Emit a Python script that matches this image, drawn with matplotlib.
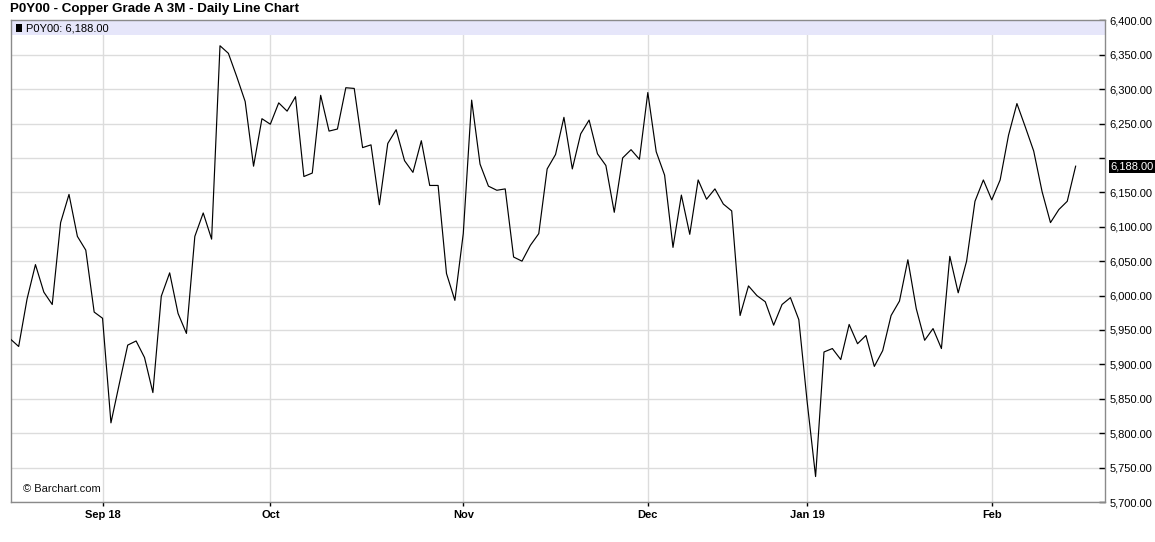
import numpy as np
import matplotlib
matplotlib.use("Agg")
import matplotlib.pyplot as plt
import matplotlib.transforms as mtransforms
from matplotlib.patches import Rectangle

plt.rcParams['font.family'] = ['Liberation Sans', 'DejaVu Sans']

# daily closes (trading-day index 0..127)
closes = [
    5937, 5926, 5995, 6045, 6005, 5987, 6106, 6147, 6086, 6066,
    5976, 5967, 5815, 5872, 5928, 5934, 5910, 5859, 5999, 6033,
    5974, 5945, 6086, 6120, 6082, 6363, 6352, 6318, 6282, 6188,
    6257, 6249, 6280, 6268, 6289, 6173, 6178, 6291, 6239, 6242,
    6302, 6301, 6215, 6219, 6132, 6221, 6241, 6196, 6179, 6225,
    6160, 6160, 6032, 5993, 6090, 6284, 6191, 6159, 6153, 6155,
    6056, 6050, 6073, 6090, 6184, 6205, 6259, 6184, 6235, 6255,
    6206, 6189, 6121, 6200, 6212, 6198, 6295, 6209, 6175, 6070,
    6146, 6089, 6168, 6140, 6155, 6133, 6123, 5971, 6014, 6000,
    5991, 5957, 5987, 5997, 5965, 5845, 5737, 5918, 5923, 5907,
    5958, 5930, 5942, 5897, 5920, 5971, 5992, 6052, 5981, 5935,
    5952, 5923, 6057, 6004, 6050, 6137, 6168, 6139, 6168, 6233,
    6279, 6245, 6210, 6151, 6106, 6125, 6137, 6188,
]
month_labels = ["Sep 18", "Oct", "Nov", "Dec", "Jan 19", "Feb"]
month_index = [11, 31, 54, 76, 95, 117]
symbol = "P0Y00"
title = "P0Y00 - Copper Grade A 3M - Daily Line Chart"

W, H = 1155, 542
fig = plt.figure(figsize=(W / 100, H / 100), dpi=100)
fig.patch.set_facecolor("white")

ax_l, ax_r, ax_t, ax_b = 10.7, 1105, 20.3, 502
ax = fig.add_axes([ax_l / W, 1 - ax_b / H, (ax_r - ax_l) / W, (ax_b - ax_t) / H])

x = np.arange(len(closes))
ax.plot(x, closes, color="black", lw=0.85, zorder=3)

ax.set_xlim(0.05, 130.5)
ax.set_ylim(5700, 6400)

# grid
yticks = np.arange(5700, 6401, 50)
ax.set_yticks(yticks)
last = closes[-1]
ax.set_yticklabels(["" if abs(v - last) < 25 else f"{v:,.2f}" for v in yticks])
ax.set_xticks(month_index)
ax.set_xticklabels(month_labels, fontweight="bold", fontsize=8)
ax.grid(True, color="#dcdcdc", lw=1.0, zorder=0)
ax.set_axisbelow(True)

ax.yaxis.tick_right()
ax.tick_params(axis="y", direction="in", length=4, width=1, color="black",
               labelsize=8, pad=3, right=True, left=False)
ax.tick_params(axis="x", direction="out", length=3, width=1, color="black",
               pad=3)
for s in ax.spines.values():
    s.set_color("#8a8a8a")
    s.set_linewidth(1.0)

# lavender legend band
band_h = 14.7 / (ax_b - ax_t)
ax.add_patch(Rectangle((0, 1 - band_h), 1, band_h, transform=ax.transAxes,
                       facecolor="#e6e6fa", edgecolor="none", zorder=1))
fig.add_artist(Rectangle((15.5 / W, 1 - 31.5 / H), 6.5 / W, 7 / H,
                         transform=fig.transFigure, facecolor="black",
                         edgecolor="none"))
fig.text(26.5 / W, 1 - 28.2 / H, f"{symbol}: {last:,.2f}", fontsize=8,
         va="center", ha="left", color="black")

# title
fig.text(10.5 / W, 1 - 9 / H, title, fontsize=9.6, fontweight="bold",
         va="center", ha="left")

# watermark
fig.text(23 / W, 1 - 488.5 / H, "\u00a9 Barchart.com", fontsize=8,
         va="center", ha="left", color="#111111")

# last value box, just right of the spine
trans = mtransforms.blended_transform_factory(ax.transAxes, ax.transData)
trans = trans + mtransforms.ScaledTranslation(5 / 100, 0, fig.dpi_scale_trans)
ax.text(1.0, last, f"{last:,.2f}", transform=trans, fontsize=8, color="white",
        va="center", ha="left", clip_on=False, zorder=10,
        bbox=dict(boxstyle="square,pad=0.12", facecolor="black",
                  edgecolor="none"))

fig.savefig("out.png", dpi=100)
